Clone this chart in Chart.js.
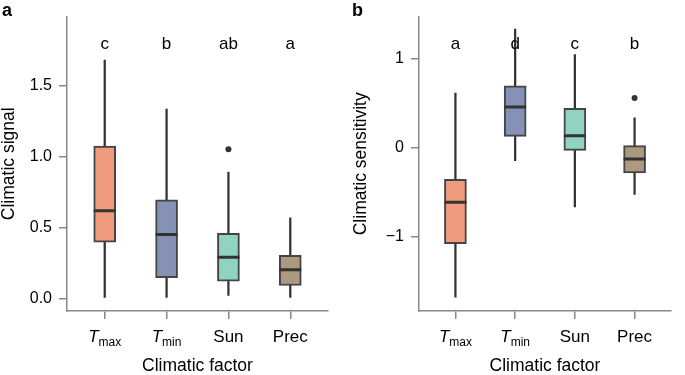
<!DOCTYPE html>
<html>
<head>
<meta charset="utf-8">
<script src="https://cdn.jsdelivr.net/npm/chart.js@4.4.1/dist/chart.umd.min.js"></script>
<style>
	html, body { margin: 0; padding: 0; background: #fff; }
	#wrap { position: relative; width: 685px; height: 375px; overflow: hidden; }
	canvas { position: absolute; top: 0; }
	#chartA { left: 0; }
	#chartB { left: 352px; }
</style>
</head>
<body>
<div id="wrap">
	<canvas id="chartA" width="342" height="375"></canvas>
	<canvas id="chartB" width="333" height="375"></canvas>
</div>
<script>
// categories (base text + subscript)
const factorNames = ["T", "T", "Sun", "Prec"];
const factorSubs = ["max", "min", "", ""];
const boxColors = ["#F19B7E", "#8592B6", "#8FD3C0", "#AD9880"];

// panel a - climatic signal
const signalLow = [0.0, 0.0, 0.02, 0.0];
const signalQ1 = [0.396, 0.145, 0.12, 0.09];
const signalMedian = [0.619, 0.451, 0.29, 0.202];
const signalQ3 = [1.075, 0.695, 0.458, 0.304];
const signalHigh = [1.683, 1.337, 0.891, 0.568];
const signalOutliers = [[], [], [1.052], []];
const signalLetters = ["c", "b", "ab", "a"];
const signalTicks = [0, 0.5, 1, 1.5];
const signalTickLabels = ["0.0", "0.5", "1.0", "1.5"];

// panel b - climatic sensitivity
const sensLow = [-1.676, -0.146, -0.663, -0.525];
const sensQ1 = [-1.075, 0.127, -0.03, -0.284];
const sensMedian = [-0.612, 0.455, 0.134, -0.128];
const sensQ3 = [-0.354, 0.692, 0.44, 0.022];
const sensHigh = [0.612, 1.329, 1.042, 0.334];
const sensOutliers = [[], [], [], [0.557]];
const sensLetters = ["a", "d", "c", "b"];
const sensTicks = [-1, 0, 1];
const sensTickLabels = ["\u22121", "0", "1"];

const family = "'Liberation Sans', Arial, Helvetica, sans-serif";
const axisGrey = "#888";
Chart.defaults.font.family = family;
Chart.defaults.color = "#000";

// letters above boxes, factor labels with subscripts, panel tag
const boxText = {
	id: "boxText",
	afterDraw(chart, args, opts) {
		const { ctx } = chart;
		const xs = chart.scales.x;
		const ys = chart.scales.y;
		ctx.save();
		ctx.fillStyle = "#000";
		ctx.textBaseline = "alphabetic";

		ctx.font = "17px " + family;
		ctx.textAlign = "center";
		opts.letters.forEach((l, i) => {
			ctx.fillText(l, xs.getPixelForValue(i + 1), ys.getPixelForValue(opts.letterY));
		});

		const baseY = xs.top + 31;
		factorNames.forEach((name, i) => {
			const cx = xs.getPixelForValue(i + 1);
			const sub = factorSubs[i];
			if (sub) {
				ctx.font = "italic 17px " + family;
				const w1 = ctx.measureText(name).width;
				ctx.font = "12px " + family;
				const w2 = ctx.measureText(sub).width;
				const left = cx - (w1 + w2) / 2;
				ctx.textAlign = "left";
				ctx.font = "italic 17px " + family;
				ctx.fillText(name, left, baseY);
				ctx.font = "12px " + family;
				ctx.fillText(sub, left + w1, baseY + 4);
			} else {
				ctx.font = "17px " + family;
				ctx.textAlign = "center";
				ctx.fillText(name, cx, baseY);
			}
		});

		ctx.font = "bold 18px " + family;
		ctx.textAlign = "left";
		ctx.fillText(opts.panel, opts.panelX, 16);
		ctx.restore();
	},
};

function boxChart(id, d) {
	const pts = (arr) => arr.map((v, i) => ({ x: i + 1, y: v }));
	return new Chart(document.getElementById(id), {
		type: "bar",
		data: {
			datasets: [
				{
					type: "line",
					data: pts(d.median),
					showLine: false,
					pointStyle: "line",
					pointRadius: 11,
					pointBorderWidth: 3,
					pointBorderColor: "#333",
					order: 0,
				},
				{
					type: "line",
					data: d.outliers.flatMap((o, i) => o.map((v) => ({ x: i + 1, y: v }))),
					showLine: false,
					pointStyle: "circle",
					pointRadius: 3,
					pointBackgroundColor: "#333",
					pointBorderWidth: 0,
					order: 0,
				},
				{
					data: d.q1.map((v, i) => ({ x: i + 1, y: [v, d.q3[i]] })),
					backgroundColor: boxColors,
					borderColor: "#444",
					borderWidth: 2,
					borderSkipped: false,
					barThickness: 22,
					grouped: false,
					order: 1,
				},
				{
					data: d.low.map((v, i) => ({ x: i + 1, y: [v, d.high[i]] })),
					backgroundColor: "#333",
					borderWidth: 0,
					barThickness: 1.6,
					grouped: false,
					order: 2,
				},
			],
		},
		options: {
			responsive: false,
			animation: false,
			events: [],
			layout: { padding: { top: 10, right: d.padRight, left: 0, bottom: 0 } },
			scales: {
				x: {
					type: "linear",
					min: 0.39,
					max: 4.61,
					offset: false,
					afterBuildTicks: (s) => {
						s.ticks = factorNames.map((n, i) => ({ value: i + 1 }));
					},
					afterFit: (s) => {
						s.height = 64;
					},
					ticks: { display: false },
					grid: { offset: false, drawOnChartArea: false, drawTicks: true, tickLength: 8, color: axisGrey, lineWidth: 1.5 },
					border: { color: axisGrey, width: 1.5 },
					title: { display: true, text: "Climatic factor", font: { size: 17.5, lineHeight: 1 }, padding: 0, color: "#000" },
				},
				y: {
					type: "linear",
					min: d.min,
					max: d.max,
					afterBuildTicks: (s) => {
						s.ticks = d.ticks.map((v) => ({ value: v }));
					},
					afterFit: (s) => {
						s.width = 67;
					},
					ticks: {
						padding: 7,
						font: { size: 16 },
						color: "#000",
						callback: (v, i) => d.tickLabels[i],
					},
					grid: { drawOnChartArea: false, drawTicks: true, tickLength: 8, color: axisGrey, lineWidth: 1.5 },
					border: { color: axisGrey, width: 1.5 },
					title: { display: true, text: d.yTitle, font: { size: 17.5, lineHeight: 1 }, padding: { top: 0, bottom: 0 }, color: "#000" },
				},
			},
			plugins: {
				legend: { display: false },
				tooltip: { enabled: false },
				boxText: { letters: d.letters, letterY: d.letterY, panel: d.panel, panelX: d.panelX },
			},
		},
		plugins: [boxText],
	});
}

boxChart("chartA", {
	low: signalLow, q1: signalQ1, median: signalMedian, q3: signalQ3, high: signalHigh,
	outliers: signalOutliers, letters: signalLetters, ticks: signalTicks, tickLabels: signalTickLabels,
	min: -0.09, max: 1.99, letterY: 1.763, yTitle: "Climatic signal",
	panel: "a", panelX: 2, padRight: 13,
});

boxChart("chartB", {
	low: sensLow, q1: sensQ1, median: sensMedian, q3: sensQ3, high: sensHigh,
	outliers: sensOutliers, letters: sensLetters, ticks: sensTicks, tickLabels: sensTickLabels,
	min: -1.83, max: 1.468, letterY: 1.11, yTitle: "Climatic sensitivity",
	panel: "b", panelX: 0, padRight: 0,
});
</script>
</body>
</html>
